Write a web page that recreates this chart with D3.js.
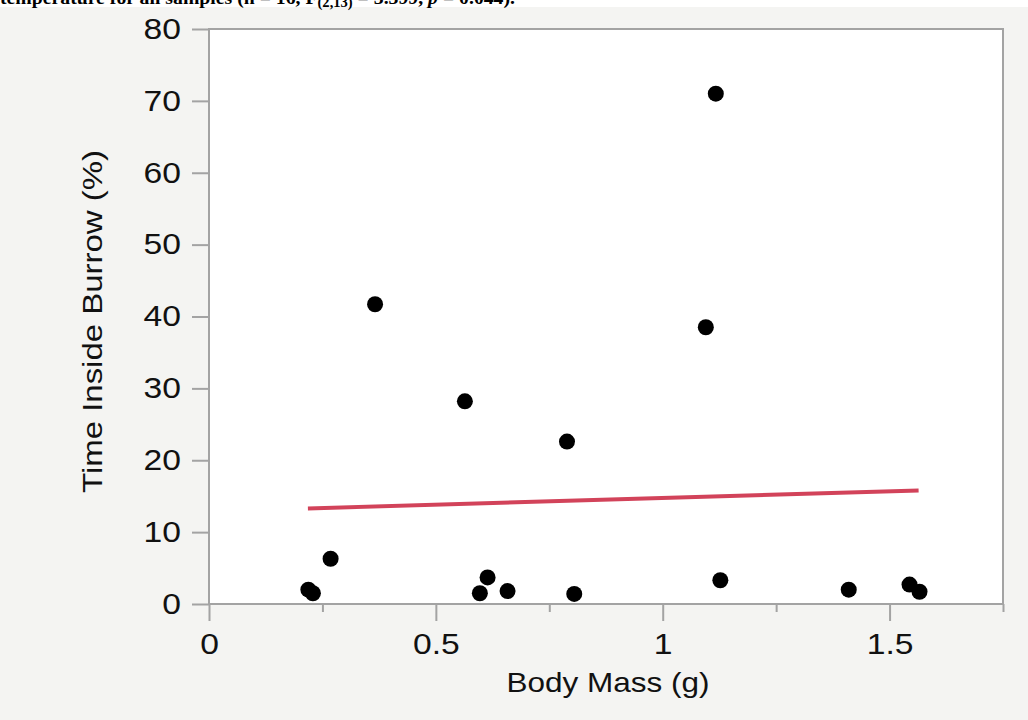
<!DOCTYPE html>
<html>
<head>
<meta charset="utf-8">
<script src="https://cdn.jsdelivr.net/npm/d3@7"></script>
<style>
  body { margin: 0; background: #f4f4f2; }
  svg { display: block; }
</style>
</head>
<body>
<svg id="chart" width="1028" height="720"></svg>
<script>
// data
const bodyMass = [0.219, 0.229, 0.268, 0.366, 0.564, 0.597, 0.614, 0.658, 0.789, 0.805, 1.095, 1.117, 1.127, 1.410, 1.544, 1.566];
const timeInside = [2.0, 1.5, 6.3, 41.7, 28.2, 1.5, 3.7, 1.8, 22.6, 1.4, 38.5, 71.0, 3.3, 2.0, 2.7, 1.7];
const fitMass = [0.218, 1.564];
const fitTime = [13.3, 15.8];
const xMajorTicks = [0, 0.5, 1, 1.5];
const xMinorTicks = [0.25, 0.75, 1.25, 1.75];
const yTicks = [0, 10, 20, 30, 40, 50, 60, 70, 80];

const svg = d3.select('#chart');
const margin = {top: 29, left: 209, right: 25, bottom: 116};
const width = 1028, height = 720;
const innerWidth = width - margin.left - margin.right;
const innerHeight = height - margin.top - margin.bottom;
const stretch = 1.16; // the picture is a bit wider than tall

// widen a text horizontally, keeping its anchor
const widen = sel => sel.each(function() {
  const len = this.getComputedTextLength();
  d3.select(this)
    .attr('textLength', len * stretch)
    .attr('lengthAdjust', 'spacingAndGlyphs');
});

// cropped caption strip at the top
svg.append('rect')
  .attr('x', 0).attr('y', 0)
  .attr('width', width).attr('height', 7)
  .attr('fill', '#ffffff');
const caption = svg.append('text')
  .attr('x', 0).attr('y', 4)
  .attr('font-family', '"Liberation Serif", "Times New Roman", serif')
  .attr('font-weight', 'bold')
  .attr('font-size', 19)
  .attr('fill', '#000');
caption.append('tspan').text('temperature for all samples (n = 16, F');
caption.append('tspan').attr('font-size', 14).attr('dy', 3).text('(2,13)');
caption.append('tspan').attr('dy', -3).text(' = 3.399, ');
caption.append('tspan').attr('font-style', 'italic').text('p');
caption.append('tspan').text(' = 0.044).');
caption.attr('textLength', 515).attr('lengthAdjust', 'spacingAndGlyphs');

const xScale = d3.scaleLinear().domain([0, 1.75]).range([0, innerWidth]);
const yScale = d3.scaleLinear().domain([0, 80]).range([innerHeight, 0]);

const g = svg.append('g')
  .attr('transform', `translate(${margin.left},${margin.top})`);

g.append('rect')
  .attr('width', innerWidth).attr('height', innerHeight)
  .attr('fill', '#ffffff')
  .attr('stroke', '#a3a3a3')
  .attr('stroke-width', 2);

const font = '"Liberation Sans", Arial, Helvetica, sans-serif';

const yAxis = d3.axisLeft(yScale).tickValues(yTicks).tickSize(17).tickPadding(11);
const yAxisG = g.append('g').call(yAxis);
yAxisG.select('.domain').remove();

const xAxis = d3.axisBottom(xScale).tickValues(xMajorTicks).tickSize(17).tickPadding(12)
  .tickFormat(d => d3.format('')(d));
const xAxisG = g.append('g').attr('transform', `translate(0,${innerHeight})`).call(xAxis);
xAxisG.select('.domain').remove();

const xMinor = d3.axisBottom(xScale).tickValues(xMinorTicks).tickSize(8).tickFormat('');
const xMinorG = g.append('g').attr('transform', `translate(0,${innerHeight})`).call(xMinor);
xMinorG.select('.domain').remove();

[yAxisG, xAxisG, xMinorG].forEach(a => {
  a.selectAll('.tick line').attr('stroke', '#a3a3a3').attr('stroke-width', 2);
  a.selectAll('.tick text')
    .attr('font-family', font)
    .attr('font-size', 29)
    .attr('fill', '#111');
});
yAxisG.selectAll('.tick text').call(widen);
xAxisG.selectAll('.tick text').call(widen);

// fit line
const line = d3.line()
  .x((d, i) => xScale(fitMass[i]))
  .y(d => yScale(d));
g.append('path')
  .datum(fitTime)
  .attr('d', line)
  .attr('fill', 'none')
  .attr('stroke', '#d2435a')
  .attr('stroke-width', 4);

// points
g.selectAll('.dot').data(bodyMass)
  .enter().append('circle')
    .attr('class', 'dot')
    .attr('cx', d => xScale(d))
    .attr('cy', (d, i) => yScale(timeInside[i]))
    .attr('r', 8)
    .attr('fill', '#000');

// axis titles
svg.append('text')
  .attr('x', margin.left + innerWidth / 2 + 2)
  .attr('y', 692)
  .attr('text-anchor', 'middle')
  .attr('font-family', font)
  .attr('font-size', 28)
  .attr('fill', '#111')
  .text('Body Mass (g)')
  .attr('textLength', 203)
  .attr('lengthAdjust', 'spacingAndGlyphs');

svg.append('text')
  .attr('transform', `translate(102,${margin.top + innerHeight / 2 + 5}) rotate(-90)`)
  .attr('text-anchor', 'middle')
  .attr('font-family', font)
  .attr('font-size', 28)
  .attr('fill', '#111')
  .text('Time Inside Burrow (%)')
  .attr('textLength', 343)
  .attr('lengthAdjust', 'spacingAndGlyphs');
</script>
</body>
</html>
